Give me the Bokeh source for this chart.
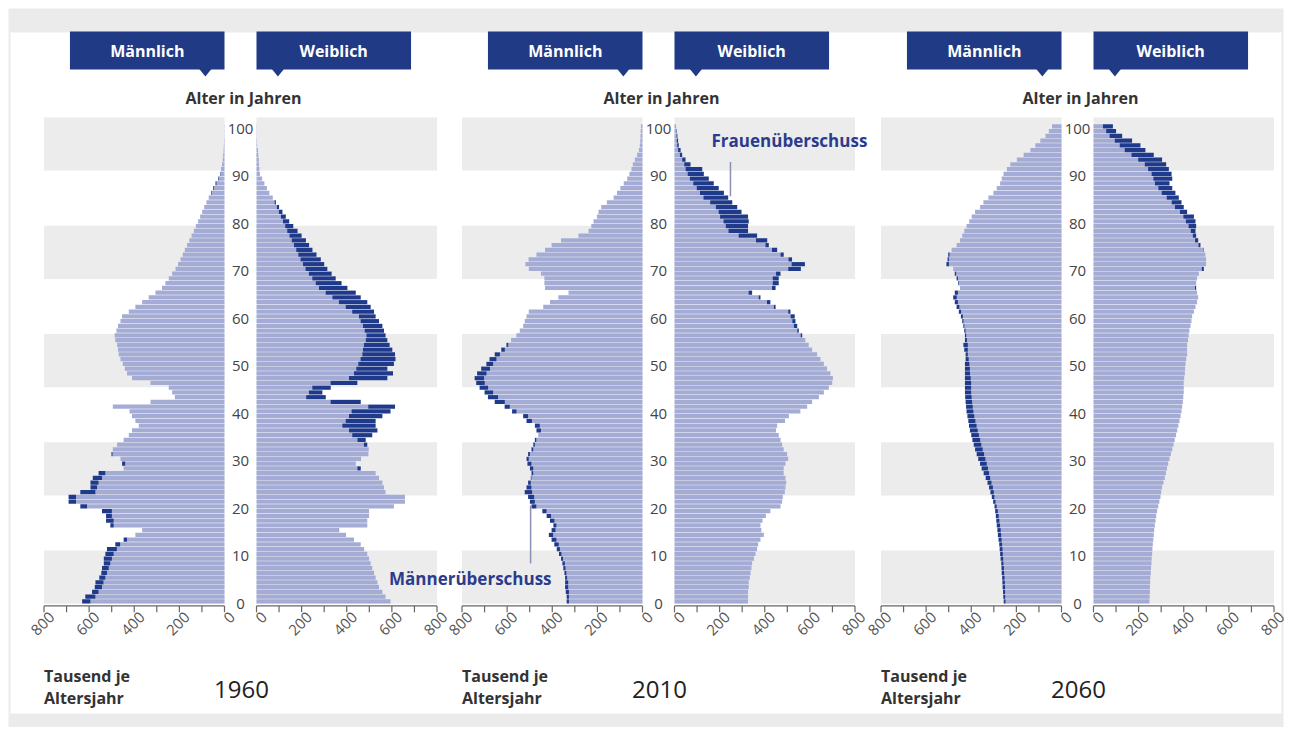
import numpy as np
from bokeh.plotting import figure
from bokeh.models import Range1d, ColumnDataSource
from bokeh.core.properties import value
from bokeh.embed import file_html
from bokeh.resources import INLINE

# ---------------- data (thousand persons per age year, ages 0..100) ----------------
ages = list(range(101))
years = ["1960", "2010", "2060"]

m1960 = [631, 617, 587, 575, 572, 555, 546, 543, 535, 535,
         528, 521, 484, 447, 395, 365, 506, 525, 525, 543,
         639, 691, 691, 639, 594, 594, 584, 558, 447, 454,
         461, 501, 495, 476, 447, 424, 410, 380, 395, 410,
         421, 495, 328, 220, 232, 247, 328, 410, 432, 442,
         451, 461, 469, 472, 476, 484, 487, 479, 472, 461,
         454, 424, 395, 365, 336, 306, 277, 262, 247, 232,
         217, 206, 195, 185, 176, 166, 156, 146, 136, 127,
         117, 108, 99, 90, 80, 70, 60, 50, 40, 28,
         18, 14, 11, 8, 6, 4, 3, 2, 1, 1, 1]
f1960 = [594, 572, 558, 543, 536, 528, 521, 513, 506, 499,
         491, 477, 462, 432, 396, 366, 491, 491, 499, 499,
         609, 658, 658, 572, 565, 558, 543, 528, 462, 440,
         462, 496, 496, 491, 484, 513, 536, 528, 528, 558,
         594, 614, 462, 307, 292, 329, 447, 580, 605, 580,
         609, 616, 614, 602, 590, 580, 572, 565, 558, 543,
         528, 521, 506, 491, 462, 440, 403, 377, 351, 333,
         314, 300, 285, 266, 248, 233, 219, 200, 182, 163,
         145, 130, 115, 100, 86, 71, 57, 46, 35, 25,
         15, 13, 11, 9, 7, 5, 3, 2, 1, 1, 1]

m2010 = [336, 336, 340, 343, 343, 343, 346, 351, 355, 361,
         370, 380, 391, 403, 415, 403, 395, 410, 425, 444,
         492, 499, 507, 522, 514, 507, 495, 492, 499, 510,
         514, 507, 492, 484, 477, 462, 470, 477, 514, 529,
         578, 611, 655, 685, 700, 722, 737, 744, 733, 715,
         692, 678, 655, 626, 603, 581, 559, 544, 529, 522,
         514, 504, 440, 410, 373, 328, 432, 435, 435, 450,
         504, 519, 505, 470, 432, 403, 361, 284, 239, 227,
         217, 202, 195, 183, 158, 128, 113, 98, 83, 68,
         58, 49, 43, 34, 24, 16, 12, 10, 9, 8, 7]
f2010 = [326, 326, 326, 329, 329, 334, 337, 341, 344, 352,
         359, 366, 371, 381, 396, 385, 381, 390, 405, 425,
         470, 477, 480, 489, 492, 495, 492, 484, 484, 492,
         504, 499, 484, 477, 470, 462, 450, 455, 490, 507,
         558, 588, 610, 640, 662, 684, 699, 702, 691, 676,
         662, 647, 632, 610, 595, 580, 566, 551, 544, 536,
         533, 514, 448, 425, 381, 344, 448, 462, 462, 470,
         560, 578, 521, 484, 455, 418, 411, 366, 326, 326,
         329, 326, 297, 278, 256, 238, 219, 196, 174, 152,
         130, 123, 71, 49, 34, 27, 19, 16, 13, 10, 7]

m2060 = [256, 258, 259, 261, 262, 263, 265, 266, 267, 270,
         272, 274, 276, 279, 282, 284, 287, 289, 291, 294,
         297, 303, 309, 315, 321, 328, 336, 345, 354, 361,
         369, 376, 383, 389, 395, 400, 406, 410, 413, 417,
         421, 423, 425, 427, 428, 428, 428, 428, 428, 428,
         428, 425, 425, 431, 435, 428, 428, 431, 435, 440,
         446, 455, 465, 473, 480, 473, 450, 458, 465, 473,
         480, 510, 505, 502, 487, 465, 450, 440, 431, 421,
         409, 398, 383, 361, 346, 324, 302, 287, 272, 265,
         257, 242, 227, 198, 168, 138, 116, 94, 71, 56, 42]
f2060 = [248, 249, 250, 250, 251, 252, 254, 255, 257, 258,
         260, 261, 263, 265, 267, 269, 272, 275, 278, 282,
         287, 292, 297, 300, 304, 310, 316, 321, 326, 331,
         337, 343, 349, 355, 360, 366, 371, 376, 381, 386,
         390, 393, 396, 398, 400, 400, 400, 402, 405, 406,
         408, 411, 415, 415, 415, 419, 422, 425, 430, 434,
         437, 445, 452, 459, 464, 459, 455, 455, 459, 467,
         489, 499, 499, 496, 489, 474, 464, 455, 452, 455,
         452, 445, 415, 400, 390, 378, 363, 349, 337, 349,
         346, 334, 322, 304, 267, 230, 208, 171, 127, 100, 86]

male = [m1960, m2010, m2060]
female = [f1960, f2010, f2060]

x_ticks = [0, 100, 200, 300, 400, 500, 600, 700, 800]
x_tick_labels = ["0", "200", "400", "600", "800"]
x_label_pos = [0, 200, 400, 600, 800]
age_ticks = [0, 10, 20, 30, 40, 50, 60, 70, 80, 90, 100]

# ---------------- layout constants (page pixels) ----------------
W, H = 1287, 727
K = 180.5 / 800              # px per thousand
PY = 4.75                    # px per age year
Y0 = 603.3                   # y of age 0
male_zero_px = [224, 642, 1061]
female_zero_px = [256, 674, 1093]

LIGHT = "#a4acd6"
DARK = "#1f398b"
NAVY = "#203a86"
BAND = "#ececec"
FRAME = "#ebebeb"
FONT = value("Open Sans")

p = figure(width=W, height=H, x_range=Range1d(0, W), y_range=Range1d(H, 0),
           output_backend="svg", toolbar_location=None, min_border=0,
           x_axis_type=None, y_axis_type=None, outline_line_color=None,
           background_fill_color="white", border_fill_color="white")

xr = {}
for i, yr in enumerate(years):
    mz = male_zero_px[i]
    fz = female_zero_px[i]
    xr["m" + yr] = Range1d(start=mz / K, end=(mz - W) / K)
    xr["f" + yr] = Range1d(start=-fz / K, end=(W - fz) / K)
p.extra_x_ranges = xr
p.extra_y_ranges = {"age": Range1d(start=(Y0 - H) / PY, end=Y0 / PY)}

# gray frame
p.quad(left=[8, 8, 8, 1281], right=[1283, 1283, 10, 1283], top=[8, 713, 32, 32],
       bottom=[32, H, 713, 713], fill_color=FRAME, line_color=None)

band_bottom = [0, 22.8, 45.6, 68.4, 91.2]
band_top = [b + 11.2 for b in band_bottom]
a = np.array(ages) + 0.5

for i, yr in enumerate(years):
    m = np.array(male[i], dtype=float)
    f = np.array(female[i], dtype=float)
    lo = np.minimum(m, f)
    for side, vals in (("m", m), ("f", f)):
        rn = side + yr
        p.quad(left=0, right=800, bottom=band_bottom, top=band_top,
               fill_color=BAND, line_color=None, x_range_name=rn, y_range_name="age")
        src = ColumnDataSource(dict(age=a, lo=lo, val=vals))
        p.hbar(y="age", height=0.88, left=0, right="lo", source=src,
               fill_color=LIGHT, line_color=None, x_range_name=rn, y_range_name="age")
        p.hbar(y="age", height=0.88, left="lo", right="val", source=src,
               fill_color=DARK, line_color=None, x_range_name=rn, y_range_name="age")
        # axis line and ticks
        p.segment(x0=[0], x1=[800], y0=[-0.45], y1=[-0.45], line_color="#666666",
                  line_width=1.2, x_range_name=rn, y_range_name="age")
        p.segment(x0=x_ticks, x1=x_ticks, y0=[-0.45] * 9, y1=[-1.8] * 9,
                  line_color="#666666", line_width=1.2, x_range_name=rn, y_range_name="age")
        p.text(x=x_label_pos, y=[-2.3] * 5, text=x_tick_labels, angle=np.pi / 4,
               x_offset=8, text_align="right", text_baseline="middle",
               text_font=FONT, text_font_size="15px", text_color="#555555",
               x_range_name=rn, y_range_name="age")
        # header box
        p.quad(left=[0], right=[685], bottom=[112.5], top=[120.5], fill_color=NAVY,
               line_color=None, x_range_name=rn, y_range_name="age")
        px = 85 if side == "m" else 95
        p.patch(x=[px - 27, px + 27, px], y=[112.6, 112.6, 111.0], fill_color=NAVY,
                line_color=None, x_range_name=rn, y_range_name="age")
        p.text(x=[342], y=[116.4], text=["Männlich" if side == "m" else "Weiblich"],
               text_align="center", text_baseline="middle", text_color="white",
               text_font=FONT, text_font_style="bold", text_font_size="16px",
               x_range_name=rn, y_range_name="age")
    mr = "m" + yr
    # age labels in the centre column
    p.text(x=[0] * len(age_ticks), y=age_ticks, text=[str(t) for t in age_ticks],
           x_offset=16, text_align="center", text_baseline="middle",
           text_font=FONT, text_font_size="15px", text_color="#444444",
           x_range_name=mr, y_range_name="age")
    p.text(x=[0], y=[106.4], text=["Alter in Jahren"], x_offset=19,
           text_align="center", text_baseline="middle", text_color="#333333",
           text_font=FONT, text_font_style="bold", text_font_size="16px",
           x_range_name=mr, y_range_name="age")
    p.text(x=[800, 800], y=[-15.3, -19.9], text=["Tausend je", "Altersjahr"],
           text_align="left", text_baseline="middle", text_color="#333333",
           text_font=FONT, text_font_style="bold", text_font_size="16px",
           x_range_name=mr, y_range_name="age")
    p.text(x=[0], y=[-18.1], text=[yr], x_offset=17,
           text_align="center", text_baseline="middle", text_color="#222222",
           text_font=FONT, text_font_size="24px",
           x_range_name=mr, y_range_name="age")

# annotations
p.segment(x0=[248], x1=[248], y0=[93.0], y1=[85.8], line_color="#8a8fb3", line_width=1.5,
          x_range_name="f2010", y_range_name="age")
p.text(x=[164], y=[97.5], text=["Frauenüberschuss"], text_align="left",
       text_baseline="middle", text_color="#2b3c8c", text_font=FONT,
       text_font_style="bold", text_font_size="17px",
       x_range_name="f2010", y_range_name="age")
p.segment(x0=[496], x1=[496], y0=[20.7], y1=[8.5], line_color="#8a8fb3", line_width=1.5,
          x_range_name="m2010", y_range_name="age")
p.text(x=[403], y=[5.3], text=["Männerüberschuss"], text_align="right",
       text_baseline="middle", text_color="#2b3c8c", text_font=FONT,
       text_font_style="bold", text_font_size="17px",
       x_range_name="m2010", y_range_name="age")

open("out.html", "w").write(file_html(p, INLINE))
